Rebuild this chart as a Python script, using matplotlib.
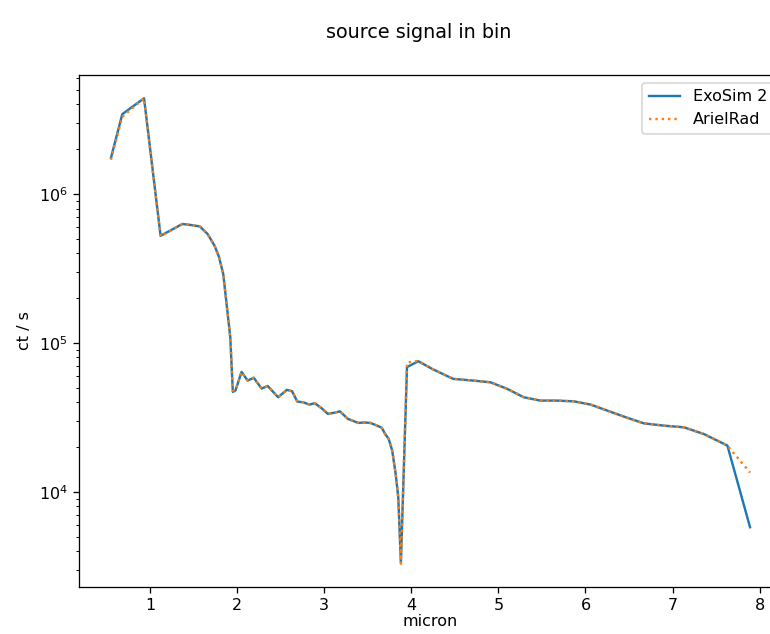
import matplotlib
matplotlib.use("Agg")
import matplotlib.pyplot as plt

wavelength = [0.55, 0.68, 0.93, 1.12, 1.37, 1.47, 1.57, 1.66, 1.74, 1.79, 1.84,
              1.92, 1.95, 1.98, 2.05, 2.12, 2.19, 2.28, 2.35, 2.47, 2.57, 2.63,
              2.69, 2.76, 2.83, 2.89, 2.97, 3.04, 3.11, 3.18, 3.27, 3.39, 3.46,
              3.53, 3.60, 3.66, 3.70, 3.74, 3.78, 3.82, 3.85, 3.88, 3.95, 4.08,
              4.24, 4.48, 4.71, 4.91, 5.10, 5.29, 5.48, 5.67, 5.87, 6.06, 6.25,
              6.48, 6.67, 6.90, 7.13, 7.36, 7.63, 7.89]

exosim = [1.75e6, 3.44e6, 4.40e6, 5.25e5, 6.3e5, 6.2e5, 6.07e5, 5.4e5, 4.5e5, 3.8e5, 2.9e5,
          1.1e5, 4.7e4, 4.8e4, 6.4e4, 5.6e4, 5.85e4, 4.95e4, 5.15e4, 4.33e4, 4.85e4, 4.75e4,
          4.05e4, 4.0e4, 3.86e4, 3.95e4, 3.65e4, 3.35e4, 3.4e4, 3.48e4, 3.1e4, 2.91e4, 2.93e4,
          2.91e4, 2.8e4, 2.7e4, 2.45e4, 2.27e4, 1.9e4, 1.32e4, 9.2e3, 3.35e3, 6.9e4, 7.55e4,
          6.7e4, 5.75e4, 5.6e4, 5.45e4, 4.93e4, 4.33e4, 4.11e4, 4.11e4, 4.06e4, 3.86e4, 3.52e4,
          3.15e4, 2.89e4, 2.79e4, 2.72e4, 2.45e4, 2.05e4, 5.8e3]

arielrad = [1.70e6, 3.3e6, 4.40e6, 5.2e5, 6.3e5, 6.2e5, 6.07e5, 5.4e5, 4.5e5, 3.8e5, 2.9e5,
            1.1e5, 4.8e4, 4.8e4, 6.4e4, 5.6e4, 5.85e4, 4.95e4, 5.15e4, 4.33e4, 4.85e4, 4.75e4,
            4.05e4, 4.0e4, 3.86e4, 3.95e4, 3.65e4, 3.35e4, 3.4e4, 3.48e4, 3.1e4, 2.91e4, 2.93e4,
            2.91e4, 2.8e4, 2.7e4, 2.45e4, 2.27e4, 1.9e4, 1.32e4, 9.2e3, 3.3e3, 7.4e4, 7.6e4,
            6.7e4, 5.75e4, 5.6e4, 5.45e4, 4.93e4, 4.33e4, 4.11e4, 4.11e4, 4.06e4, 3.86e4, 3.52e4,
            3.15e4, 2.89e4, 2.79e4, 2.72e4, 2.45e4, 2.05e4, 1.35e4]

DPI = 115
fig = plt.figure(figsize=(770 / DPI, 634 / DPI), dpi=DPI)
ax = fig.add_axes([79 / 770, (634 - 587) / 634, (782 - 79) / 770, (587 - 75) / 634])
ax.plot(wavelength, exosim, color="C0", label="ExoSim 2")
ax.plot(wavelength, arielrad, color="C1", linestyle=":", label="ArielRad")
ax.set_yscale("log")
ax.set_xlabel("micron", labelpad=0.5)
ax.set_ylabel("ct / s")
ax.legend(loc="upper right")
fig.suptitle("source signal in bin", x=0.544, y=1 - 33 / 634, va="center")
fig.savefig("out.png", dpi=DPI)
